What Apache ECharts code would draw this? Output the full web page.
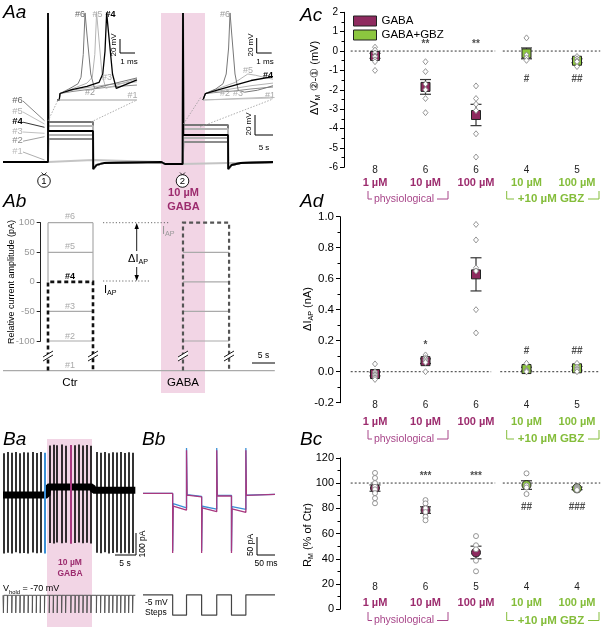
<!DOCTYPE html>
<html><head><meta charset="utf-8">
<script src="https://cdn.jsdelivr.net/npm/echarts@6/dist/echarts.min.js"></script>
<style>html,body{margin:0;padding:0;background:#fff}#c{width:603px;height:629px}</style>
</head><body><div id="c"></div>
<script>
const FONT = '"Liberation Sans", Arial, Helvetica, sans-serif';
const PURPLE = '#8e2a5f', PURPLE_TXT = '#9c2c6e', PURPLE_BR = '#a8468a';
const GREEN = '#8cc63f', GREEN_TXT = '#84bd3a', PINK = '#f2d5e5';
const BLUE = '#3b8fd6', MAG = '#a8387f';

// ---------------- summary data (Ac, Ad, Bc) ----------------
const conc = ['1 µM', '10 µM', '100 µM', '10 µM', '100 µM'];
const gbzGroup = [0, 0, 0, 1, 1];

const acN = [8, 6, 6, 4, 5];
const acMean = [-0.25, -1.85, -3.3, -0.12, -0.5];
const acSem = [0.13, 0.38, 0.55, 0.28, 0.1];
const acPts = [[0.2, 0.05, -0.1, -0.25, -0.3, -0.45, -0.55, -1.0], [-0.55, -1.06, -1.7, -2.0, -2.45, -3.18], [-1.8, -2.45, -2.74, -3.07, -4.27, -5.47], [0.68, -0.2, -0.35, -0.48], [-0.28, -0.4, -0.5, -0.55, -0.8]];
const acSig = ['', '**', '**', '#', '##'];
const acSigY = [0, 0.33, 0.33, -1.47, -1.47];

const adN = [8, 6, 6, 4, 5];
const adMean = [-0.015, 0.068, 0.628, 0.017, 0.022];
const adSem = [0.012, 0.015, 0.107, 0.012, 0.012];
const adPts = [[0.05, 0.0, -0.01, -0.02, -0.02, -0.03, -0.04, -0.05], [0.108, 0.09, 0.08, 0.07, 0.06, 0.0], [0.95, 0.85, 0.67, 0.65, 0.40, 0.25], [0.054, 0.01, 0.005, 0.0], [0.054, 0.03, 0.02, 0.01, 0.0]];
const adSig = ['', '*', '**', '#', '##'];
const adSigY = [0, 0.168, 1.01, 0.135, 0.135];

const bcN = [8, 6, 5, 4, 4];
const bcMean = [96, 78.6, 45, 98.4, 95.8];
const bcSem = [2.5, 2.6, 5, 3.4, 1];
const bcPts = [[108, 104, 100, 97, 95, 92, 88, 84], [86.5, 83.9, 80, 77, 73.3, 70.5], [58, 50.7, 47.5, 38.5, 30.1], [107.7, 98, 96.5, 91.3], [97, 96.3, 95.5, 94.5]];
const bcSig = ['', '***', '***', '##', '###'];
const bcSigY = [0, 105, 105, 81.2, 81.2];

// ---------------- Aa traces (s, mV) ----------------
const aaLabels = ['#1', '#2', '#3', '#4', '#5', '#6'];
const aaColors = ['#c4c4c4', '#8c8c8c', '#b4b4b4', '#000000', '#b4b4b4', '#777777'];
const aaStep1 = [-68, -47, -43, -39, -34, -30];
const aaStep2 = [-71, -50, -46, -43, -37, -33];
const aaSpiking = [0, 0, 0, 1, 1, 1];
const aaSpikePeak = 79;
const aaRest = -70, aaGabaRest = -72, aaUndershoot = -77;
const aaOn1 = 12.5, aaOff1 = 25, aaOn2 = 50, aaOff2 = 62.5, aaEnd = 75;

// inset traces (ms, mV above step baseline)
const in1 = {
  '#1': [[0, 0], [5.33, 0]],
  '#2': [[0, 0], [0.15, 0], [0.2, 10], [1, 13], [2, 16], [3.5, 20], [5.33, 23]],
  '#3': [[0, 0], [0.15, 0], [0.2, 10], [1, 15], [2, 19], [3.5, 24], [5.33, 28]],
  '#5': [[0, 0], [0.15, 0], [0.2, 10], [1, 17], [2, 26], [2.35, 35], [2.52, 70], [2.64, 134], [2.77, 100], [3.0, 40], [3.25, 18], [4, 23], [5.33, 33]],
  '#6': [[0, 0], [0.15, 0], [0.2, 10], [0.8, 17], [1.4, 25], [1.6, 35], [1.75, 70], [1.87, 134], [2.0, 100], [2.25, 40], [2.5, 18], [3.2, 22], [5.33, 34]],
  '#4': [[0, 0], [0.15, 0], [0.2, 10], [1, 16], [2, 21], [2.8, 27], [3.05, 40], [3.2, 75], [3.31, 134], [3.45, 100], [3.7, 40], [3.95, 18], [4.6, 24], [5.33, 31]]
};
const in2 = {
  '#1': [[0, 0], [4.375, 3]],
  '#2': [[0, 0], [0.1, 0], [0.15, 10], [1, 12], [2, 14], [3, 17], [4.375, 20]],
  '#3': [[0, 0], [0.1, 0], [0.15, 10], [1, 14], [2, 18], [3, 22], [4.375, 26]],
  '#5': [[0, 0], [0.1, 0], [0.15, 10], [1, 18], [2, 27], [2.8, 40], [3.3, 38], [3.8, 35], [4.375, 32]],
  '#6': [[0, 0], [0.1, 0], [0.15, 10], [0.8, 17], [1.25, 25], [1.45, 40], [1.6, 80], [1.69, 134], [1.8, 100], [2.0, 40], [2.2, 15], [2.6, 12], [3.4, 15], [4.375, 22]],
  '#4': [[0, 0], [0.1, 0], [0.15, 10], [1, 16], [2, 23], [3, 30], [4.375, 36]]
};
const inColors = {'#1': '#c4c4c4', '#2': '#8c8c8c', '#3': '#b4b4b4', '#4': '#000', '#5': '#b4b4b4', '#6': '#777'};

// ---------------- Ab schematic (pA) ----------------
const abLevels = [-150, -100, -50, 0, 50, 100];   // #1..#6
const abCtr = [12.5, 25];
const abGaba = [50, 62.8];

// ---------------- Ba (s, pA) ----------------
const baSweepT = [0.1, 1.05, 2.1, 3.05, 4.05, 5.0, 6.0, 7.0, 7.95, 8.9, 9.9, 11.05, 12.0, 12.95, 14.0, 14.95, 16.2, 17.2, 18.1, 19.1, 20.05, 21.0, 22.3, 23.3, 24.3, 25.3, 26.2, 27.2, 28.1, 29.1, 30.0, 30.95];
const baUp = [190, 195, 192, 196, 190, 194, 193, 195, 191, 196, 192, 225, 228, 226, 230, 224, 227, 226, 229, 225, 227, 224, 195, 192, 196, 190, 194, 193, 195, 191, 194, 192];
const baDown = [-265, -262, -266, -260, -264, -263, -265, -261, -264, -262, -265, -218, -220, -216, -219, -217, -221, -218, -216, -219, -217, -220, -262, -264, -260, -265, -263, -261, -264, -262, -266, -263];
const baBlueIdx = 10, baMagIdx = 16;
const baHolding = [[0, 0], [10.5, 0], [10.7, 36], [21.3, 36], [21.6, 22], [31.6, 22]];

// ---------------- Bb (ms, pA) ----------------
const bbMag = [[0, 0], [82.5, 0], [82.5, -186], [84, -40], [121, -52], [121, 135], [122.5, -5], [163, -11], [163, -186], [164.5, -45], [205, -57], [205, 135], [206.5, -8], [246, -8], [246, -186], [247.5, -48], [286, -59], [286, 135], [287.5, -6], [367, -3]];
const bbBlue = [[0, 0], [82.5, 0], [82.5, -180], [84, -32], [121, -45], [121, 142], [122.5, -4], [163, -9], [163, -180], [164.5, -40], [205, -49], [205, 142], [206.5, -6], [246, -6], [246, -180], [247.5, -41], [286, -50], [286, 142], [287.5, -5], [367, -3]];
const bbV = [[0, -70], [82.5, -70], [82.5, -75], [121, -75], [121, -70], [163, -70], [163, -75], [205, -75], [205, -70], [246, -70], [246, -75], [286, -75], [286, -70], [367, -70]];

// ================= build =================
const errRender = (params, api) => {
  const x = api.value(0);
  const a = api.coord([x, api.value(1)]);
  const b = api.coord([x, api.value(2)]);
  const w = 5.5, st = {stroke: '#333', lineWidth: 1.2};
  return {type: 'group', children: [
    {type: 'line', shape: {x1: a[0], y1: a[1], x2: b[0], y2: b[1]}, style: st},
    {type: 'line', shape: {x1: a[0] - w, y1: a[1], x2: a[0] + w, y2: a[1]}, style: st},
    {type: 'line', shape: {x1: b[0] - w, y1: b[1], x2: b[0] + w, y2: b[1]}, style: st}
  ]};
};

function panelSeries(xi, yi, mean, sem, pts, sig, sigY, meanSym, meanSize, ptSym, ref, gap) {
  const S = [];
  [[-0.64, gap[0]], [gap[1], 4.46]].forEach(seg => S.push({type: 'line', xAxisIndex: xi, yAxisIndex: yi, data: seg.map(x => [x, ref]), symbol: 'none', clip: false, silent: true, z: 2, lineStyle: {color: '#333', width: 1, type: [2, 2]}}));
  S.push({type: 'custom', xAxisIndex: xi, yAxisIndex: yi, z: 3, silent: true, data: mean.map((m, i) => [i, m - sem[i], m + sem[i]]), renderItem: errRender});
  ['GABA', 'GABA+GBZ'].forEach((nm, g) => S.push({type: 'scatter', name: nm, xAxisIndex: xi, yAxisIndex: yi, z: 4, silent: true,
    data: mean.map((m, i) => [i, m]).filter((d, i) => gbzGroup[i] === g), symbol: meanSym, symbolSize: meanSize,
    itemStyle: {color: g ? GREEN : PURPLE, borderColor: '#222', borderWidth: 1, opacity: 1}}));
  const pd = []; pts.forEach((arr, i) => arr.forEach(v => pd.push([i, v])));
  S.push({type: 'scatter', xAxisIndex: xi, yAxisIndex: yi, z: 5, silent: true, data: pd, symbol: ptSym, symbolSize: ptSym === 'diamond' ? [5, 6] : 5,
    itemStyle: {color: '#fff', borderColor: '#8a8a8a', borderWidth: 0.9, opacity: 1}});
  S.push({type: 'scatter', xAxisIndex: xi, yAxisIndex: yi, z: 6, silent: true, symbolSize: 1, itemStyle: {color: 'rgba(0,0,0,0)'},
    data: sig.map((s, i) => [i, sigY[i], s]).filter(d => d[2]),
    label: {show: true, position: 'inside', formatter: q => q.data[2], fontSize: 10, color: '#222', fontFamily: FONT, fontWeight: 'bold'}});
  return S;
}

function catAxis(gi, nArr, margin, lhN, lhC) {
  return {type: 'category', gridIndex: gi, position: 'bottom', data: conc, boundaryGap: true,
    axisLine: {show: false, onZero: false}, axisTick: {show: false}, splitLine: {show: false},
    axisLabel: {interval: 0, margin, formatter: (v, i) => '{n|' + nArr[i] + '}\n{' + (gbzGroup[i] ? 'g' : 'p') + '|' + v + '}',
      rich: {n: {fontSize: 10, lineHeight: lhN, color: '#222', fontFamily: FONT},
        p: {fontSize: 11, lineHeight: lhC, fontWeight: 'bold', color: PURPLE_TXT, fontFamily: FONT},
        g: {fontSize: 11, lineHeight: lhC, fontWeight: 'bold', color: GREEN_TXT, fontFamily: FONT}}}};
}
function valYAxis(gi, min, max, interval, offset, fs, fmt) {
  return {type: 'value', gridIndex: gi, min, max, interval, offset,
    axisLine: {show: true, onZero: false, lineStyle: {color: '#000', width: 1}},
    axisTick: {show: true, length: 4, lineStyle: {color: '#000'}},
    minorTick: {show: true, splitNumber: 2, length: 2.5, lineStyle: {color: '#000'}},
    splitLine: {show: false}, minorSplitLine: {show: false},
    axisLabel: {fontSize: fs, color: '#000', margin: 6, fontFamily: FONT, formatter: fmt}};
}
const hidX = (gi, min, max, pos) => ({type: 'value', gridIndex: gi, min, max, show: false, position: pos || 'bottom'});
const hidY = (gi, min, max) => ({type: 'value', gridIndex: gi, min, max, show: false, axisLine: {onZero: false}});

const G = (left, top, width, height) => ({left, top, width, height, containLabel: false, outerBoundsMode: 'none'});
const grids = [
  G(349.75, 12.3, 252.5, 155),     // 0 Ac
  G(349.75, 216.7, 252.5, 186),    // 1 Ad
  G(349.75, 457.8, 252.5, 151.5),  // 2 Bc
  G(3, 0, 270, 180),               // 3 Aa
  G(57, 10, 80, 90),               // 4 inset 1
  G(203, 10, 70, 90),              // 5 inset 2
  G(40.7, 222.7, 234.3, 118.3),    // 6 Ab
  G(3, 440, 134, 120),             // 7 Ba I
  G(3, 590, 134, 30),              // 8 Ba V
  G(143, 440, 132, 120),           // 9 Bb I
  G(143, 590, 132, 30)             // 10 Bb V
];

const xAxes = [
  hidX(0, -0.5, 4.5, 'top'), catAxis(0, acN, -3.3, 12, 14),
  hidX(1, -0.5, 4.5, 'top'), catAxis(1, adN, -3, 12, 20),
  hidX(2, -0.5, 4.5, 'top'), catAxis(2, bcN, -27.6, 12, 19.2),
  hidX(3, 0, 75), hidX(4, 0, 5.333), hidX(5, 0, 4.375), hidX(6, 10.47, 75.56),
  hidX(7, 0, 32), hidX(8, 0, 32), hidX(9, 0, 367), hidX(10, 0, 367)
];
const abY = {type: 'value', gridIndex: 6, min: -100, max: 100, interval: 50,
  axisLine: {show: true, onZero: false, lineStyle: {color: '#222'}}, axisTick: {show: true, length: 4, lineStyle: {color: '#222'}},
  splitLine: {show: false}, axisLabel: {fontSize: 9.5, color: '#999', margin: 6, fontFamily: FONT}};
const yAxes = [
  valYAxis(0, -6, 2, 1, 5.75, 10),
  valYAxis(1, -0.2, 1.0, 0.2, 9.75, 11.5, v => v.toFixed(1)),
  valYAxis(2, 0, 120, 20, 9.75, 11),
  hidY(3, -88, 92), hidY(4, 0, 138.5), hidY(5, 0, 138.5), abY,
  hidY(7, -295, 250), hidY(8, -77, -68.5), hidY(9, -208, 167), hidY(10, -76.2, -68.8)
];

let series = [];
series = series.concat(panelSeries(0, 0, acMean, acSem, acPts, acSig, acSigY, 'rect', 9, 'diamond', 0, [2.38, 2.53]));
series = series.concat(panelSeries(2, 1, adMean, adSem, adPts, adSig, adSigY, 'rect', 9, 'diamond', 0, [2.3, 2.48]));
series = series.concat(panelSeries(4, 2, bcMean, bcSem, bcPts, bcSig, bcSigY, 'circle', 9, 'circle', 100, [2.38, 2.53]));

const lineS = (xi, yi, data, color, width, z, extra) => Object.assign({type: 'line', xAxisIndex: xi, yAxisIndex: yi, data, symbol: 'none', showSymbol: false, silent: true, clip: false, z: z || 2,
  lineStyle: {color, width: width || 1}}, extra || {});

// Aa main traces
function aaTrace(k) {
  const d = [[0, aaRest], [aaOn1, aaRest]];
  if (aaSpiking[k]) d.push([aaOn1, aaSpikePeak]);
  d.push([aaOn1 + 0.1, aaStep1[k]], [aaOff1, aaStep1[k]]);
  if (k > 0) d.push([aaOff1 + 0.05, aaUndershoot], [26, -73], [28, -71]);
  d.push([44, aaRest], [45, aaGabaRest], [aaOn2 - 0.1, aaGabaRest]);
  if (aaSpiking[k]) d.push([aaOn2, aaSpikePeak]);
  d.push([aaOn2 + 0.1, aaStep2[k]], [aaOff2, aaStep2[k]]);
  if (k > 0) d.push([aaOff2 + 0.05, aaUndershoot], [63.5, -73], [66, -71], [aaEnd, aaRest]);
  else d.push([aaOff2 + 0.1, -71], [aaEnd, -71]);
  return d;
}
[0, 1, 2, 5, 4, 3].forEach(k => series.push(lineS(6, 3, aaTrace(k), aaColors[k], k === 3 ? 1.8 : 2, k === 3 ? 4 : 3)));
['#1', '#2', '#3', '#5', '#6', '#4'].forEach(l => {
  series.push(lineS(7, 4, in1[l], inColors[l], l === '#4' ? 1.3 : 1, l === '#4' ? 4 : 3));
  series.push(lineS(8, 5, in2[l], inColors[l], l === '#4' ? 1.3 : 1, l === '#4' ? 4 : 3));
});

// Ab schematic
const abGray = [];
[abLevels[1], abLevels[2], abLevels[4], abLevels[5]].forEach(v => abGray.push({coords: [[abCtr[0], v], [abCtr[1], v]]}));
abGray.push({coords: [[abCtr[0], abLevels[5]], [abCtr[0], abLevels[3]]]}, {coords: [[abCtr[1], abLevels[5]], [abCtr[1], abLevels[3]]]});
[abLevels[1], abLevels[2], abLevels[3], abLevels[4]].forEach(v => abGray.push({coords: [[abGaba[0], v], [abGaba[1], v]]}));
abGray.push({coords: [[0, abLevels[0]], [75.5, abLevels[0]]]});
series.push({type: 'lines', coordinateSystem: 'cartesian2d', xAxisIndex: 9, yAxisIndex: 6, polyline: true, clip: false, silent: true, z: 2,
  lineStyle: {color: '#aaa', width: 1.2, opacity: 1}, data: abGray});
series.push({type: 'lines', coordinateSystem: 'cartesian2d', xAxisIndex: 9, yAxisIndex: 6, polyline: true, clip: false, silent: true, z: 3,
  lineStyle: {color: '#111', width: 2.6, type: [4, 3], opacity: 1},
  data: [{coords: [[abCtr[0], abLevels[0]], [abCtr[0], abLevels[3]], [abCtr[1], abLevels[3]], [abCtr[1], abLevels[0]]]}]});
series.push({type: 'lines', coordinateSystem: 'cartesian2d', xAxisIndex: 9, yAxisIndex: 6, polyline: true, clip: false, silent: true, z: 3,
  lineStyle: {color: '#555', width: 2.2, type: [4, 3], opacity: 1},
  data: [{coords: [[abGaba[0], abLevels[0]], [abGaba[0], abLevels[5]], [abGaba[1], abLevels[5]], [abGaba[1], abLevels[0]]]}]});

// Ba
series.push(lineS(10, 7, baHolding, '#000', 7, 2));
series.push({type: 'lines', coordinateSystem: 'cartesian2d', xAxisIndex: 10, yAxisIndex: 7, polyline: false, clip: false, silent: true, z: 3,
  lineStyle: {width: 1.6, opacity: 1},
  data: baSweepT.map((t, i) => ({coords: [[t, baDown[i]], [t, baUp[i]]], lineStyle: {color: i === baBlueIdx ? BLUE : (i === baMagIdx ? MAG : '#000'), width: i === baBlueIdx || i === baMagIdx ? 2 : 1.6}}))});
const baV = [[0, -70]];
baSweepT.forEach(t => baV.push([t, -70], [t, -75], [t + 0.08, -75], [t + 0.08, -70]));
baV.push([31.6, -70]);
series.push(lineS(11, 8, baV, '#555', 1, 2));

// Bb
series.push(lineS(12, 9, bbBlue, BLUE, 1.3, 2));
series.push(lineS(12, 9, bbMag, MAG, 1.3, 3));
series.push(lineS(13, 10, bbV, '#444', 1.2, 2));

// ================= graphic annotations =================
function T(x, y, text, o) {
  o = o || {};
  return {type: 'text', x, y, rotation: o.rot || 0, z: 100, silent: true,
    style: {text, fill: o.c || '#000', fontSize: o.fs || 10, fontFamily: FONT, fontWeight: o.fw || 'normal', fontStyle: o.it ? 'italic' : 'normal',
      align: o.a || 'center', verticalAlign: o.va || 'middle', textAlign: o.a || 'center', textVerticalAlign: o.va || 'middle',
      rich: o.rich, backgroundColor: o.bg, padding: o.pad}};
}
function Ln(x1, y1, x2, y2, c, w, dash) { return {type: 'line', z: 100, silent: true, shape: {x1, y1, x2, y2}, style: {stroke: c || '#000', lineWidth: w || 1, lineDash: dash || null}}; }
function P(points, c, w, dash) { return {type: 'polyline', z: 100, silent: true, shape: {points}, style: {stroke: c || '#000', lineWidth: w || 1, fill: null, lineDash: dash || null}}; }
const subRich = (fs, c) => ({a: {fontSize: fs, fontFamily: FONT, fill: c, color: c, lineHeight: fs + 3}, s: {fontSize: fs * 0.65, fontFamily: FONT, fill: c, color: c, lineHeight: fs * 0.7, verticalAlign: 'bottom'}});

const gr = [];
// pink GABA bands
gr.push({type: 'rect', z: 0, silent: true, shape: {x: 161, y: 13, width: 44, height: 380}, style: {fill: PINK}});
gr.push({type: 'rect', z: 0, silent: true, shape: {x: 47, y: 439, width: 45, height: 188}, style: {fill: PINK}});
// panel letters
[['Aa', 3, 12.5], ['Ab', 3, 202], ['Ac', 300, 15.5], ['Ad', 300, 202], ['Ba', 3, 440], ['Bb', 142, 440], ['Bc', 300, 440]].forEach(p => gr.push(T(p[1], p[2], p[0], {fs: 19, it: true, a: 'left'})));

// Aa left labels & leader lines
const aaLabY = [151.5, 140.7, 131.5, 121.7, 111.5, 100.5];
const aaLeadEnd = [160, 136.7, 133.3, 127.3, 124, 120.7];
const aaLabCol = ['#bbb', '#888', '#b0b0b0', '#000', '#b0b0b0', '#666'];
aaLabels.forEach((l, k) => {
  gr.push(T(17.5, aaLabY[k], l, {fs: 9.5, c: aaLabCol[k], fw: k === 3 ? 'bold' : 'normal'}));
  gr.push(Ln(23, aaLabY[k] + 0.5, 44.5, aaLeadEnd[k], aaLabCol[k] === '#bbb' ? '#999' : aaLabCol[k], 0.8));
});
// circled markers
[[44, '1'], [182.5, '2']].forEach(c => {
  gr.push({type: 'circle', z: 100, silent: true, shape: {cx: c[0], cy: 181, r: 6.3}, style: {fill: '#fff', stroke: '#000', lineWidth: 0.9}});
  gr.push(T(c[0], 181.5, c[1], {fs: 9.5}));
  gr.push(P([[c[0] - 2.5, 172.5], [c[0], 175], [c[0] + 2.5, 172.5]], '#000', 0.8));
});
gr.push(T(183.5, 193, '10 µM', {fs: 11, fw: 'bold', c: PURPLE_TXT}));
gr.push(T(183.5, 206.5, 'GABA', {fs: 11, fw: 'bold', c: PURPLE_TXT}));
// inset 1 labels
[['#6', 80, 15, '#666'], ['#5', 97.5, 15, '#aaa'], ['#4', 110.5, 15, '#000'], ['#3', 107, 78, '#aaa'], ['#2', 90, 93, '#999'], ['#1', 132.5, 96, '#aaa']].forEach(l => gr.push(T(l[1], l[2], l[0], {fs: 9, c: l[3], fw: l[0] === '#4' ? 'bold' : 'normal'})));
// inset 2 labels
[['#6', 225, 15, '#999'], ['#5', 248, 71, '#aaa'], ['#4', 268, 76, '#000'], ['#2', 225, 94, '#aaa'], ['#3', 238, 94, '#aaa'], ['#1', 270, 96, '#aaa']].forEach(l => gr.push(T(l[1], l[2], l[0], {fs: 9, c: l[3], fw: l[0] === '#4' ? 'bold' : 'normal'})));
// scale bars Aa
gr.push(P([[120, 39], [120, 53], [135, 53]], '#000', 1));
gr.push(T(114, 45, '20 mV', {fs: 8, rot: Math.PI / 2}));
gr.push(T(129, 62, '1 ms', {fs: 8}));
gr.push(P([[256.7, 38], [256.7, 53], [271.7, 53]], '#000', 1));
gr.push(T(251, 45, '20 mV', {fs: 8, rot: Math.PI / 2}));
gr.push(T(265, 62, '1 ms', {fs: 8}));
gr.push(P([[255, 115], [255, 135], [273, 135]], '#000', 1));
gr.push(T(249, 124, '20 mV', {fs: 8, rot: Math.PI / 2}));
gr.push(T(264, 148, '5 s', {fs: 8}));
// dotted zoom indicators
gr.push(Ln(48, 121, 58, 100, '#999', 0.8, [1.5, 1.5]));
gr.push(Ln(91, 122, 137, 100, '#999', 0.8, [1.5, 1.5]));
gr.push(Ln(183.5, 124, 201, 97, '#999', 0.8, [1.5, 1.5]));
gr.push(Ln(200, 127, 273, 99, '#999', 0.8, [1.5, 1.5]));
gr.push(Ln(57, 100, 137, 100, '#bbb', 1));
gr.push(Ln(203, 100, 273, 97, '#bbb', 1));

// Ab annotations
gr.push(T(12, 282, 'Relative current amplitude (pA)', {fs: 9, rot: Math.PI / 2}));
const abLabY = [366, 337, 307, 277, 247, 217];
aaLabels.forEach((l, k) => gr.push(T(70, abLabY[k], l, {fs: 9, c: k === 3 ? '#000' : '#aaa', fw: k === 3 ? 'bold' : 'normal'})));
gr.push(Ln(103, 222.7, 170, 222.7, '#444', 0.8, [1.2, 2]));
gr.push(Ln(103, 281, 150, 281, '#444', 0.8, [1.2, 2]));
gr.push(Ln(136.7, 226, 136.7, 278, '#000', 0.9));
gr.push({type: 'polygon', z: 100, silent: true, shape: {points: [[136.7, 223], [134.5, 229], [138.9, 229]]}, style: {fill: '#000'}});
gr.push({type: 'polygon', z: 100, silent: true, shape: {points: [[136.7, 281], [134.5, 275], [138.9, 275]]}, style: {fill: '#000'}});
gr.push({type: 'text', z: 101, silent: true, x: 138, y: 259, style: {text: '{a|ΔI}{s|AP}', rich: subRich(11, '#000'), align: 'center', verticalAlign: 'middle', backgroundColor: '#fff', padding: [1, 1]}});
gr.push({type: 'text', z: 101, silent: true, x: 104, y: 290, style: {text: '{a|I}{s|AP}', rich: subRich(11, '#000'), align: 'left', verticalAlign: 'middle'}});
gr.push({type: 'text', z: 101, silent: true, x: 162, y: 231, style: {text: '{a|I}{s|AP}', rich: subRich(11, '#999'), align: 'left', verticalAlign: 'middle'}});
[48, 93, 183, 229].forEach(x => {
  gr.push({type: 'polygon', z: 100, silent: true, shape: {points: [[x - 5, 357], [x + 5, 351], [x + 5, 355], [x - 5, 361]]}, style: {fill: '#fff'}});
  gr.push(Ln(x - 5, 357, x + 5, 351, '#000', 0.9));
  gr.push(Ln(x - 5, 361, x + 5, 355, '#000', 0.9));
});
gr.push(T(70, 383, 'Ctr', {fs: 11.5}));
gr.push(T(183, 383, 'GABA', {fs: 11.5}));
gr.push(Ln(252, 363, 275, 363, '#000', 1));
gr.push(T(263.5, 356, '5 s', {fs: 8.5}));

// Ba annotations
gr.push(P([[115, 555], [136, 555], [136, 533]], '#000', 1));
gr.push(T(125, 564, '5 s', {fs: 8.5}));
gr.push(T(143, 544, '100 pA', {fs: 8.5, rot: Math.PI / 2}));
gr.push(T(70, 563, '10 µM', {fs: 8.5, fw: 'bold', c: PURPLE_TXT}));
gr.push(T(70, 573.5, 'GABA', {fs: 8.5, fw: 'bold', c: PURPLE_TXT}));
gr.push({type: 'text', z: 101, silent: true, x: 3, y: 589, style: {text: '{a|V}{s|hold}{a| = -70 mV}', rich: subRich(9, '#000'), align: 'left', verticalAlign: 'middle'}});
// Bb annotations
gr.push(P([[257, 537], [257, 555], [275, 555]], '#000', 1));
gr.push(T(251, 545, '50 pA', {fs: 8.5, rot: Math.PI / 2}));
gr.push(T(266, 564, '50 ms', {fs: 8.5}));
gr.push(T(145, 603, '-5 mV', {fs: 8.5, a: 'left'}));
gr.push(T(145, 613, 'Steps', {fs: 8.5, a: 'left'}));

// right panels: y names and brackets
gr.push({type: 'text', z: 101, silent: true, x: 315, y: 78, rotation: Math.PI / 2, style: {text: '{a|ΔV}{s|M}{a| ②-① (mV)}', rich: subRich(11, '#000'), align: 'center', verticalAlign: 'middle'}});
gr.push({type: 'text', z: 101, silent: true, x: 308, y: 309, rotation: Math.PI / 2, style: {text: '{a|ΔI}{s|AP}{a| (nA)}', rich: subRich(11, '#000'), align: 'center', verticalAlign: 'middle'}});
gr.push({type: 'text', z: 101, silent: true, x: 308, y: 535, rotation: Math.PI / 2, style: {text: '{a|R}{s|M}{a| (% of Ctr)}', rich: subRich(11, '#000'), align: 'center', verticalAlign: 'middle'}});
function brackets(yL, yT) {
  return [
    P([[368, yT], [368, yL], [372, yL]], PURPLE_BR, 1),
    T(404, yL, 'physiological', {c: PURPLE_BR, fs: 10.5}),
    P([[437, yL], [448, yL], [448, yT]], PURPLE_BR, 1),
    P([[506.7, yT], [506.7, yL], [514, yL]], GREEN_TXT, 1),
    T(551, yL, '+10 µM GBZ', {c: GREEN_TXT, fs: 11.5, fw: 'bold'}),
    P([[588, yL], [599, yL], [599, yT]], GREEN_TXT, 1)
  ];
}
brackets(199, 191).concat(brackets(439, 430), brackets(620.5, 612)).forEach(e => gr.push(e));

const option = {
  animation: false,
  textStyle: {fontFamily: FONT},
  legend: {left: 348, top: 10, orient: 'vertical', itemWidth: 23, itemHeight: 10, itemGap: 2, selectedMode: false,
    textStyle: {fontSize: 11.5, color: '#000', fontFamily: FONT},
    itemStyle: {borderColor: '#222', borderWidth: 1},
    data: [{name: 'GABA', icon: 'rect'}, {name: 'GABA+GBZ', icon: 'rect'}]},
  grid: grids, xAxis: xAxes, yAxis: yAxes, series,
  graphic: {elements: gr}
};
const chart = echarts.init(document.getElementById('c'), null, {renderer: 'canvas'});
chart.setOption(option);
</script></body></html>
